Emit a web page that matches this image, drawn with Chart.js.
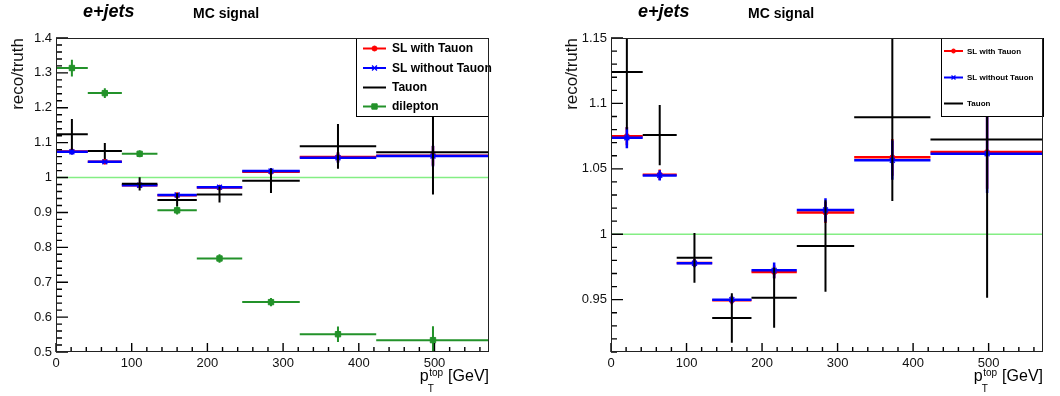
<!DOCTYPE html>
<html>
<head>
<meta charset="utf-8">
<script src="https://cdn.jsdelivr.net/npm/chart.js@4.4.1/dist/chart.umd.min.js"></script>
<style>
  body { margin: 0; background: #fff; }
  #wrap { position: relative; width: 1060px; height: 396px; }
  canvas { position: absolute; top: 0; }
</style>
</head>
<body>
<div id="wrap">
  <canvas id="left-chart" width="530" height="396" style="left:0"></canvas>
  <canvas id="right-chart" width="530" height="396" style="left:530px"></canvas>
</div>
<script>
// p_T^top binning (GeV)
const binEdges = [0, 42, 87, 134, 186, 246, 322, 423, 573];
const binCenters = [21, 64.5, 110.5, 160, 216, 284, 372.5, 498];

// reco/truth per bin
const slWithTauon       = [1.075, 1.0455, 0.978, 0.9495, 0.9712, 1.0166, 1.0588, 1.0628];
const slWithTauonErr    = [0.007, 0.004, 0.003, 0.003, 0.005, 0.008, 0.014, 0.028];
const slWithoutTauon    = [1.0737, 1.0450, 0.9778, 0.9500, 0.9724, 1.0185, 1.0566, 1.0615];
const slWithoutTauonErr = [0.008, 0.004, 0.003, 0.003, 0.006, 0.009, 0.015, 0.030];
const tauon             = [1.124, 1.0758, 0.982, 0.936, 0.9515, 0.991, 1.0895, 1.0725];
const tauonErr          = [0.044, 0.023, 0.019, 0.019, 0.023, 0.035, 0.064, 0.121];
const dilepton          = [1.314, 1.242, 1.068, 0.906, 0.768, 0.643, 0.551, 0.534];
const dileptonErr       = [0.024, 0.014, 0.010, 0.012, 0.012, 0.012, 0.022, 0.040];

const referenceValue = 1;

// axis ticks
const xTicks = [0, 100, 200, 300, 400, 500];
const leftYTicks = [0.5, 0.6, 0.7, 0.8, 0.9, 1.0, 1.1, 1.2, 1.3, 1.4];
const rightYTicks = [0.95, 1.0, 1.05, 1.1, 1.15];

const FONT = '"Liberation Sans", Arial, Helvetica, sans-serif';
const X_MAX = 572;

function points(values) {
    return values.map((v, i) => ({ x: binCenters[i], y: v }));
}

function series(label, values, errors, color, style) {
    return Object.assign({
        label: label,
        data: points(values),
        errors: errors,
        borderColor: color,
        backgroundColor: color,
        pointBorderColor: color,
        pointBackgroundColor: color,
        showLine: false,
    }, style);
}

function refLine() {
    return {
        type: 'line',
        label: 'ref',
        data: [{ x: 0, y: referenceValue }, { x: X_MAX, y: referenceValue }],
        borderColor: '#84ee84',
        borderWidth: 1.6,
        pointRadius: 0,
        order: 10,
    };
}

// horizontal bin-width bars + vertical error bars, drawn under each dataset's markers
const errorBars = {
    id: 'errorBars',
    beforeDatasetDraw(chart, args) {
        const ds = chart.data.datasets[args.index];
        if (!ds.errors) return;
        const { ctx, chartArea: a, scales: { x, y } } = chart;
        ctx.save();
        ctx.beginPath();
        ctx.rect(a.left, a.top, a.right - a.left, a.bottom - a.top);
        ctx.clip();
        ctx.strokeStyle = ds.borderColor;
        ctx.lineWidth = ds.barWidth;
        ds.data.forEach((p, i) => {
            const yy = y.getPixelForValue(p.y);
            const xx = x.getPixelForValue(p.x);
            ctx.beginPath();
            ctx.moveTo(x.getPixelForValue(binEdges[i]), yy);
            ctx.lineTo(x.getPixelForValue(binEdges[i + 1]), yy);
            ctx.moveTo(xx, y.getPixelForValue(p.y - ds.errors[i]));
            ctx.lineTo(xx, y.getPixelForValue(p.y + ds.errors[i]));
            ctx.stroke();
        });
        ctx.restore();
    }
};

// ROOT style frame: ticks inside, legend box, titles
function rootFrame(panel) {
    return {
        id: 'rootFrame',
        afterDatasetsDraw(chart) {
            const ctx = chart.ctx;
            const L = panel.legend;
            ctx.save();
            ctx.fillStyle = '#fff';
            ctx.fillRect(L.x, L.y, L.w, L.h);
            ctx.strokeStyle = '#000';
            ctx.lineWidth = 1;
            ctx.strokeRect(L.x + 0.5, L.y + 0.5, L.w, L.h);
            const entries = chart.data.datasets.filter(d => d.errors);
            entries.forEach((d, i) => {
                const yy = L.rows[i];
                ctx.strokeStyle = d.borderColor;
                ctx.fillStyle = d.borderColor;
                ctx.lineWidth = 2;
                ctx.beginPath();
                ctx.moveTo(L.line[0], yy);
                ctx.lineTo(L.line[1], yy);
                ctx.stroke();
                if (d.pointRadius > 0) {
                    ctx.lineWidth = d.pointBorderWidth || 1;
                    Chart.helpers.drawPoint(ctx, {
                        pointStyle: d.pointStyle,
                        radius: d.pointRadius * L.markerScale,
                        borderWidth: d.pointBorderWidth || 1,
                        rotation: 0,
                    }, (L.line[0] + L.line[1]) / 2, yy);
                }
                ctx.fillStyle = '#000';
                ctx.font = L.font;
                ctx.textBaseline = 'middle';
                ctx.fillText(d.label, L.textX, yy + 0.5);
            });
            ctx.restore();
        },
        afterDraw(chart) {
            const { ctx, chartArea: a, scales: { x, y } } = chart;
            ctx.save();
            const left = Math.round(a.left), right = Math.round(a.right);
            const top = Math.round(a.top), bottom = Math.round(a.bottom);

            // ticks (inside the frame)
            ctx.strokeStyle = '#000';
            ctx.lineWidth = 1.4;
            ctx.beginPath();
            const yStep = panel.yMinor;
            const k0 = Math.ceil(panel.yMin / yStep - 1e-6);
            for (let k = k0; k * yStep <= panel.yMax + 1e-9; k++) {
                const v = k * yStep;
                const major = panel.yTicks.some(t => Math.abs(t - v) < 1e-6);
                const py = y.getPixelForValue(v);
                ctx.moveTo(left, py);
                ctx.lineTo(left + (major ? 12 : 6), py);
            }
            const xStep = panel.xMinor;
            for (let k = 0; k * xStep <= X_MAX; k++) {
                const v = k * xStep;
                const major = xTicks.some(t => Math.abs(t - v) < 1e-6);
                const px = x.getPixelForValue(v);
                ctx.moveTo(px, bottom);
                ctx.lineTo(px, bottom - (major ? 9 : 5));
            }
            ctx.stroke();

            // frame
            ctx.fillStyle = '#222';
            ctx.fillRect(left, top, right - left, 1);
            ctx.fillRect(left, bottom - 1, right - left, 1);
            ctx.fillRect(left, top, 1, bottom - top);
            ctx.fillRect(right - 1, top, 1, bottom - top);

            // panel texts
            ctx.fillStyle = '#000';
            ctx.textBaseline = 'alphabetic';
            ctx.font = 'italic bold 18px ' + FONT;
            ctx.fillText('e+jets', a.left + 27, 17);
            ctx.font = 'bold 14px ' + FONT;
            ctx.fillText('MC signal', a.left + 137, 18);

            // x axis title p_T^top [GeV], right aligned
            const big = '16px ' + FONT, small = '10px ' + FONT;
            ctx.font = big;
            const wp = ctx.measureText('p').width;
            const wu = ctx.measureText(' [GeV]').width;
            ctx.font = small;
            const ws = ctx.measureText('top').width;
            const xs = a.right - wu - ws - wp - 1;
            const base = 381;
            ctx.font = big;
            ctx.fillText('p', xs, base);
            ctx.font = small;
            ctx.fillText('top', xs + wp + 0.5, base - 5);
            ctx.fillText('T', xs + wp - 1, base + 11);
            ctx.font = big;
            ctx.fillText(' [GeV]', xs + wp + ws + 1, base);
            ctx.restore();
        }
    };
}

function fmt(v) {
    return String(Number(v.toFixed(2)));
}

function makeChart(canvasId, datasets, panel) {
    return new Chart(document.getElementById(canvasId).getContext('2d'), {
        type: 'scatter',
        data: { datasets: datasets },
        plugins: [errorBars, rootFrame(panel)],
        options: {
            responsive: false,
            animation: false,
            devicePixelRatio: 1,
            layout: { padding: { left: 0, right: panel.padRight, top: 38, bottom: 0 } },
            plugins: {
                legend: { display: false },
                tooltip: { enabled: false },
            },
            scales: {
                x: {
                    type: 'linear',
                    min: 0,
                    max: X_MAX,
                    afterBuildTicks: s => { s.ticks = xTicks.map(v => ({ value: v })); },
                    afterFit: s => { s.height = 44; },
                    grid: { display: false, drawTicks: false },
                    border: { display: false },
                    ticks: { color: '#111', padding: 4, font: { family: FONT, size: 13 }, callback: v => String(v), maxRotation: 0 },
                },
                y: {
                    type: 'linear',
                    min: panel.yMin,
                    max: panel.yMax,
                    afterBuildTicks: s => { s.ticks = panel.yTicks.map(v => ({ value: v })); },
                    afterFit: s => { s.width = panel.frameLeft; },
                    grid: { display: false, drawTicks: false },
                    border: { display: false },
                    ticks: { color: '#111', padding: 4, font: { family: FONT, size: 13 }, callback: v => fmt(v) },
                    title: {
                        display: true,
                        text: 'reco/truth',
                        align: 'end',
                        color: '#111',
                        font: { family: FONT, size: 17 },
                        padding: { top: panel.titlePad, bottom: 0 },
                    },
                },
            },
        },
    });
}

const redStyle   = { order: 4, barWidth: 2.5, pointStyle: 'circle', pointRadius: 2.5, pointBorderWidth: 1 };
const blueStyle  = { order: 3, barWidth: 2.5, pointStyle: 'crossRot', pointRadius: 3.5, pointBorderWidth: 1.3 };
const blackStyle = { order: 2, barWidth: 2, pointStyle: 'circle', pointRadius: 0 };
const greenStyle = { order: 1, barWidth: 2, pointStyle: 'rect', pointRadius: 3.8, pointBorderWidth: 1 };

makeChart('left-chart', [
    series('SL with Tauon', slWithTauon, slWithTauonErr, '#ff0000', redStyle),
    series('SL without Tauon', slWithoutTauon, slWithoutTauonErr, '#0000ff', blueStyle),
    series('Tauon', tauon, tauonErr, '#000000', blackStyle),
    series('dilepton', dilepton, dileptonErr, '#23922a', greenStyle),
    refLine(),
], {
    frameLeft: 56, padRight: 41, yMin: 0.5, yMax: 1.4, yTicks: leftYTicks,
    yMinor: 0.02, xMinor: 20, titlePad: 8,
    legend: { x: 356, y: 38, w: 132, h: 78, rows: [48.5, 68, 87.5, 106.5], line: [363, 386], textX: 392,
              font: 'bold 12px ' + FONT, markerScale: 1 },
});

makeChart('right-chart', [
    series('SL with Tauon', slWithTauon, slWithTauonErr, '#ff0000', redStyle),
    series('SL without Tauon', slWithoutTauon, slWithoutTauonErr, '#0000ff', blueStyle),
    series('Tauon', tauon, tauonErr, '#000000', blackStyle),
    refLine(),
], {
    frameLeft: 81, padRight: 17, yMin: 0.91, yMax: 1.15, yTicks: rightYTicks,
    yMinor: 0.01, xMinor: 20, titlePad: 32,
    legend: { x: 411, y: 38, w: 102, h: 78, rows: [51, 77.5, 103.5], line: [414, 433], textX: 437,
              font: 'bold 8px ' + FONT, markerScale: 0.8 },
});
</script>
</body>
</html>
